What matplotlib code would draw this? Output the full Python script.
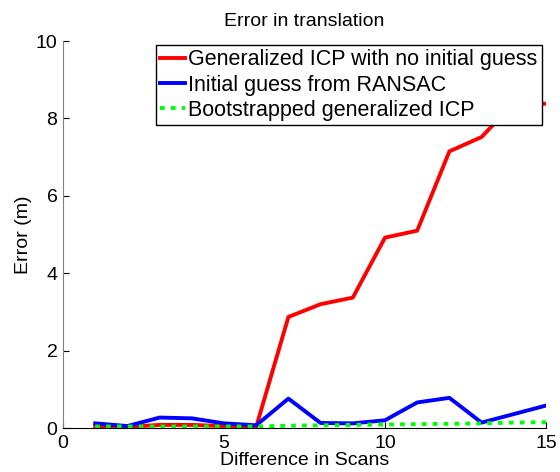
import matplotlib.pyplot as plt

# Scan difference on x, translation error (m) on y
scans = list(range(1, 16))
gicp_no_guess = [0.05, 0.03, 0.08, 0.08, 0.05, 0.03, 2.87, 3.20, 3.37, 4.92, 5.10, 7.15, 7.52, 8.40, 8.38]
ransac_guess = [0.12, 0.05, 0.27, 0.25, 0.12, 0.07, 0.76, 0.13, 0.12, 0.20, 0.66, 0.78, 0.14, 0.36, 0.58]
bootstrapped = [0.04, 0.04, 0.04, 0.04, 0.04, 0.04, 0.06, 0.07, 0.08, 0.09, 0.10, 0.11, 0.12, 0.14, 0.15]

plt.rcParams['font.family'] = ['Liberation Sans', 'DejaVu Sans']

fig = plt.figure(figsize=(5.6, 4.72), dpi=100)
ax = fig.add_axes([0.1125, 0.0932, 0.8625, 0.8198])

ax.plot(scans, gicp_no_guess, color='#ff0000', lw=2.8, label='Generalized ICP with no initial guess')
ax.plot(scans, ransac_guess, color='#0000ff', lw=2.8, label='Initial guess from RANSAC')
ax.plot(scans, bootstrapped, color='#00ff00', lw=2.8, ls=(0, (1.2, 1.6)), label='Bootstrapped generalized ICP')

ax.set_xlim(0, 15)
ax.set_ylim(0, 10)
ax.set_xticks([0, 5, 10, 15])
ax.set_yticks([0, 2, 4, 6, 8, 10])
ax.tick_params(direction='in', labelsize=14, length=4)
ax.tick_params(axis='x', pad=5)
ax.tick_params(axis='y', pad=4)
ax.spines['top'].set_visible(False)
ax.spines['right'].set_visible(False)
ax.spines['left'].set_color('#808080')

ax.set_title('Error in translation', fontsize=14, pad=11)
ax.set_xlabel('Difference in Scans', fontsize=14, labelpad=0)
ax.set_ylabel('Error (m)', fontsize=14, labelpad=3)

leg = ax.legend(loc='upper right', bbox_to_anchor=(542 / 560, 1 - 45 / 472),
                bbox_transform=fig.transFigure, fontsize=15.5, frameon=True,
                fancybox=False, framealpha=1, borderpad=0.2, labelspacing=0.2,
                handlelength=1.15, handletextpad=0.15, borderaxespad=0)
leg.get_frame().set_edgecolor('black')
leg.get_frame().set_linewidth(1.0)

fig.savefig('out.png', dpi=100)
